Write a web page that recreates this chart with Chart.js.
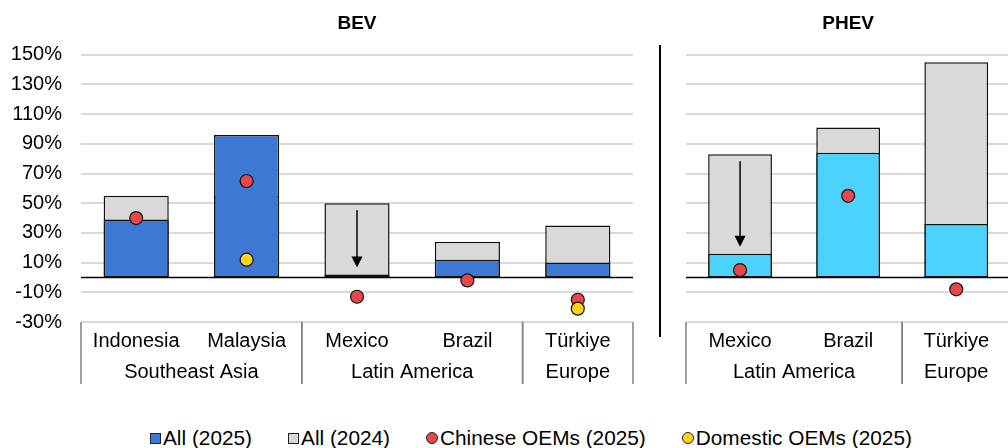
<!DOCTYPE html>
<html>
<head>
<meta charset="utf-8">
<script src="https://cdn.jsdelivr.net/npm/chart.js@4.4.1/dist/chart.umd.min.js"></script>
<style>
  html, body { margin: 0; padding: 0; background: #fff; width: 1008px; height: 448px; overflow: hidden; }
  #bev { position: absolute; left: 0; top: 0; }
  #phev { position: absolute; left: 660px; top: 0; }
  .divider { position: absolute; left: 659px; top: 45px; width: 2px; height: 292px; background: #000; }
  #legend { position: absolute; left: 150px; top: 427px; display: flex; gap: 36px;
            font: 20.8px "Liberation Sans", Arial, sans-serif; line-height: 22px; color: #000; white-space: nowrap; }
  #legend .item { display: flex; align-items: center; gap: 2px; }
  #legend .box { width: 9px; height: 9px; border: 1px solid #222; }
  #legend .dot { width: 10px; height: 10px; border: 1px solid #222; border-radius: 50%; }
</style>
</head>
<body>
<canvas id="bev" width="650" height="400"></canvas>
<canvas id="phev" width="358" height="400"></canvas>
<div class="divider"></div>
<div id="legend"></div>

<script>
// ---- data ----
const seriesNames = ['All (2025)', 'All (2024)', 'Chinese OEMs (2025)', 'Domestic OEMs (2025)'];
const yTickValues = [-30, -10, 10, 30, 50, 70, 90, 110, 130, 150];

const bevCountries = ['Indonesia', 'Malaysia', 'Mexico', 'Brazil', 'Türkiye'];
const bevRegions = ['Southeast Asia', 'Southeast Asia', 'Latin America', 'Latin America', 'Europe'];
const bevAll2025 = [39, 96, 2, 12, 10];
const bevAll2024 = [55, 55, 50, 24, 35];
const bevChinese = [40, 65, -13, -2, -15];
const bevDomestic = [null, 12, null, null, -21];

const phevCountries = ['Mexico', 'Brazil', 'Türkiye'];
const phevRegions = ['Latin America', 'Latin America', 'Europe'];
const phevAll2025 = [16, 84, 36];
const phevAll2024 = [83, 101, 145];
const phevChinese = [5, 55, -8];
const phevDomestic = [null, null, null];

// ---- styles ----
const FONT = '"Liberation Sans", Arial, sans-serif';
const BLUE = '#3c78d4';
const CYAN = '#4bd2ff';
const GREY = '#d9d9d9';
const RED = '#e8474a';
const YELLOW = '#ffd21e';

// zero line, arrows, region row under the category axis
const panelExtras = {
  id: 'panelExtras',
  beforeDatasetsDraw(chart) {
    const { ctx, chartArea, scales: { y } } = chart;
    const y0 = y.getPixelForValue(0);
    ctx.save();
    ctx.strokeStyle = '#000';
    ctx.lineWidth = 1.5;
    ctx.beginPath();
    ctx.moveTo(chartArea.left, y0);
    ctx.lineTo(chartArea.right, y0);
    ctx.stroke();
    ctx.restore();
  },
  afterDatasetsDraw(chart, args, opts) {
    const { ctx, scales: { x, y } } = chart;
    const now = chart.data.datasets[0].data;
    const before = chart.data.datasets[1].data;
    ctx.save();
    ctx.strokeStyle = '#000';
    ctx.fillStyle = '#000';
    ctx.lineWidth = 1.5;
    opts.arrows.forEach(i => {
      const px = x.getPixelForValue(i);
      const yTop = y.getPixelForValue(before[i]) + 7;
      const yTip = y.getPixelForValue(now[i]) - 7;
      ctx.beginPath();
      ctx.moveTo(px, yTop);
      ctx.lineTo(px, yTip - 9);
      ctx.stroke();
      ctx.beginPath();
      ctx.moveTo(px - 5.5, yTip - 11);
      ctx.lineTo(px + 5.5, yTip - 11);
      ctx.lineTo(px, yTip);
      ctx.closePath();
      ctx.fill();
    });
    ctx.restore();
  },
  afterDraw(chart, args, opts) {
    const { ctx, chartArea, scales: { x } } = chart;
    const regions = opts.regions;
    const half = (x.getPixelForValue(1) - x.getPixelForValue(0)) / 2;
    const top = chartArea.bottom;
    ctx.save();
    ctx.strokeStyle = '#808080';
    ctx.lineWidth = 1.5;
    ctx.fillStyle = '#000';
    ctx.font = '20px ' + FONT;
    ctx.textAlign = 'center';
    ctx.textBaseline = 'middle';
    let start = 0;
    for (let i = 1; i <= regions.length; i++) {
      if (i === regions.length || regions[i] !== regions[start]) {
        const l = x.getPixelForValue(start) - half;
        const r = x.getPixelForValue(i - 1) + half;
        [l, r].forEach(px => {
          ctx.beginPath();
          ctx.moveTo(px, top);
          ctx.lineTo(px, top + 62);
          ctx.stroke();
        });
        ctx.fillText(regions[start], (l + r) / 2, top + 50);
        start = i;
      }
    }
    ctx.restore();
  }
};

function makePanel(id, title, countries, regions, all2025, all2024, chinese, domestic, color2025, arrows, yWidth, padding) {
  return new Chart(document.getElementById(id), {
    type: 'bar',
    data: {
      labels: countries,
      datasets: [
        { label: seriesNames[0], data: all2025, backgroundColor: color2025, borderColor: '#111',
          borderWidth: 1.5, borderSkipped: false, grouped: false, order: 2 },
        { label: seriesNames[1], data: all2024, backgroundColor: GREY, borderColor: '#111',
          borderWidth: 1.5, borderSkipped: false, grouped: false, order: 3 },
        { type: 'line', label: seriesNames[2], data: chinese, showLine: false, pointRadius: 6.5,
          pointHoverRadius: 6.5, pointBackgroundColor: RED, pointBorderColor: '#111', pointBorderWidth: 1.2, order: 1 },
        { type: 'line', label: seriesNames[3], data: domestic, showLine: false, pointRadius: 6.5,
          pointHoverRadius: 6.5, pointBackgroundColor: YELLOW, pointBorderColor: '#111', pointBorderWidth: 1.2, order: 0 }
      ]
    },
    options: {
      responsive: false,
      animation: false,
      layout: { padding: padding },
      datasets: { bar: { categoryPercentage: 1, barPercentage: 0.59 } },
      plugins: {
        legend: { display: false },
        tooltip: { enabled: false },
        title: { display: true, text: title, fullSize: false, color: '#000',
                 font: { family: FONT, size: 19, weight: 'bold' }, padding: { top: 12, bottom: 20 } },
        panelExtras: { regions: regions, arrows: arrows }
      },
      scales: {
        x: {
          grid: { display: false, drawTicks: false },
          border: { display: false },
          ticks: { color: '#000', font: { family: FONT, size: 20 }, padding: 7, maxRotation: 0, autoSkip: false },
          afterFit(s) { s.height = 78; }
        },
        y: {
          min: -30, max: 150,
          afterBuildTicks(s) { s.ticks = yTickValues.map(v => ({ value: v })); },
          grid: { color: GREY, lineWidth: 2, drawTicks: false },
          border: { display: false },
          ticks: { display: yWidth > 30, padding: 19, color: '#000', font: { family: FONT, size: 20 },
                   callback: v => v + '%' },
          afterFit(s) { s.width = yWidth; }
        }
      }
    },
    plugins: [panelExtras]
  });
}

makePanel('bev', 'BEV', bevCountries, bevRegions, bevAll2025, bevAll2024, bevChinese, bevDomestic,
          BLUE, [2], 70, { left: 11, right: 17, top: 0, bottom: 0 });
makePanel('phev', 'PHEV', phevCountries, phevRegions, phevAll2025, phevAll2024, phevChinese, phevDomestic,
          CYAN, [0], 26, { left: 0, right: 0, top: 0, bottom: 0 });

// legend
const legendMarks = [
  { cls: 'box', color: BLUE }, { cls: 'box', color: GREY },
  { cls: 'dot', color: RED }, { cls: 'dot', color: YELLOW }
];
const legend = document.getElementById('legend');
seriesNames.forEach((name, i) => {
  const item = document.createElement('div');
  item.className = 'item';
  const mark = document.createElement('span');
  mark.className = legendMarks[i].cls;
  mark.style.background = legendMarks[i].color;
  const text = document.createElement('span');
  text.textContent = name;
  item.appendChild(mark);
  item.appendChild(text);
  legend.appendChild(item);
});
</script>
</body>
</html>
